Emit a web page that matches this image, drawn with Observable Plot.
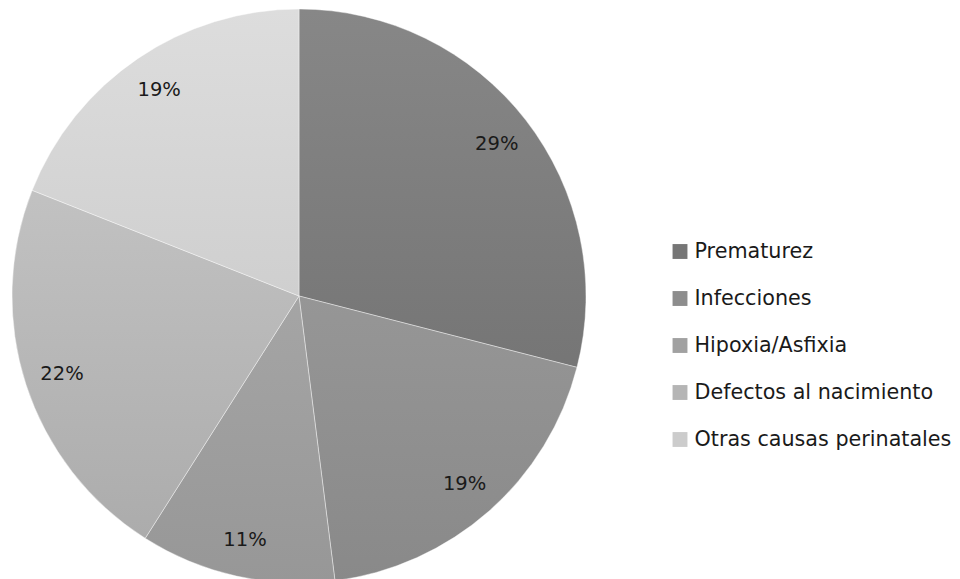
<!DOCTYPE html>
<html>
<head>
<meta charset="utf-8">
<script src="https://cdn.jsdelivr.net/npm/d3@7"></script>
<script src="https://cdn.jsdelivr.net/npm/@observablehq/plot@0.6"></script>
<style>
  body { margin: 0; background: #fff; }
  #wrap { position: relative; width: 960px; height: 579px; overflow: hidden; }
  #wrap > svg { position: absolute; top: 0; }
</style>
</head>
<body>
<div id="wrap"></div>
<script>
// Causes of perinatal death and their share of the total (%)
const causes = ["Prematurez", "Infecciones", "Hipoxia/Asfixia", "Defectos al nacimiento", "Otras causas perinatales"];
const shares = [29, 19, 11, 22, 19];

// Grey shading per cause: vertical gradient (top → bottom) and flat legend swatch
const shadeTop = ["#878787", "#a3a3a3", "#b3b3b3", "#cdcdcd", "#dddddd"];
const shadeBottom = ["#6b6b6b", "#898989", "#979797", "#a9a9a9", "#c1c1c1"];
const swatch = ["#767676", "#8d8d8d", "#a1a1a1", "#b5b5b5", "#cccccc"];

const font = "'DejaVu Sans', sans-serif";

const rows = causes.map((cause, i) => ({cause, share: shares[i], i}));
const arcs = d3.pie().sort(null).value(d => d.share)(rows);

// Percent labels sit along each slice's bisector, in unit-radius coordinates
const labelRadius = 0.87;
const labels = arcs.map(a => {
  const mid = (a.startAngle + a.endAngle) / 2;
  return {text: `${a.data.share}%`, x: labelRadius * Math.sin(mid), y: labelRadius * Math.cos(mid)};
});

// Render the slices with d3.arc, sized from Plot's x and y scales
function pieSlices(index, scales) {
  const cx = scales.x(0), cy = scales.y(0);
  const r = scales.x(1) - scales.x(0);
  const g = d3.create("svg:g");
  const defs = g.append("defs");
  arcs.forEach((a, i) => {
    const lg = defs.append("linearGradient")
      .attr("id", `shade${i}`)
      .attr("gradientUnits", "userSpaceOnUse")
      .attr("x1", 0).attr("x2", 0).attr("y1", -r).attr("y2", r);
    lg.append("stop").attr("offset", 0).attr("stop-color", shadeTop[i]);
    lg.append("stop").attr("offset", 1).attr("stop-color", shadeBottom[i]);
  });
  const arc = d3.arc().innerRadius(0).outerRadius(r);
  g.append("g")
    .attr("transform", `translate(${cx},${cy})`)
    .selectAll("path")
    .data(arcs)
    .join("path")
      .attr("d", arc)
      .attr("fill", (d, i) => `url(#shade${i})`)
      .attr("stroke", "rgba(255,255,255,0.4)")
      .attr("stroke-width", 1);
  return g.node();
}

const pie = Plot.plot({
  width: 960,
  height: 579,
  style: {fontFamily: font, background: "transparent"},
  x: {domain: [-1, 1], range: [12, 586], axis: null},
  y: {domain: [-1, 1], range: [583, 9], axis: null},
  marks: [
    pieSlices,
    Plot.text(labels, {x: "x", y: "y", text: "text", fontSize: 19.5, fill: "#1a1a1a"})
  ]
});

const legend = Plot.plot({
  width: 300,
  height: 579,
  marginLeft: 19.5,
  marginRight: 0,
  style: {fontFamily: font, background: "transparent"},
  x: {axis: null},
  y: {domain: causes, type: "point", range: [249.5, 439.5], padding: 0, axis: null},
  color: {domain: causes, range: swatch},
  marks: [
    Plot.dot(causes, {y: d => d, fill: d => d, symbol: "square", r: 8.4, frameAnchor: "left"}),
    Plot.text(causes, {y: d => d, text: d => d, frameAnchor: "left", textAnchor: "start", dx: 14.5, fontSize: 20.7, fill: "#1a1a1a"})
  ]
});

const wrap = document.getElementById("wrap");
pie.style.left = "0px";
legend.style.left = "660px";
wrap.append(pie, legend);
</script>
</body>
</html>
